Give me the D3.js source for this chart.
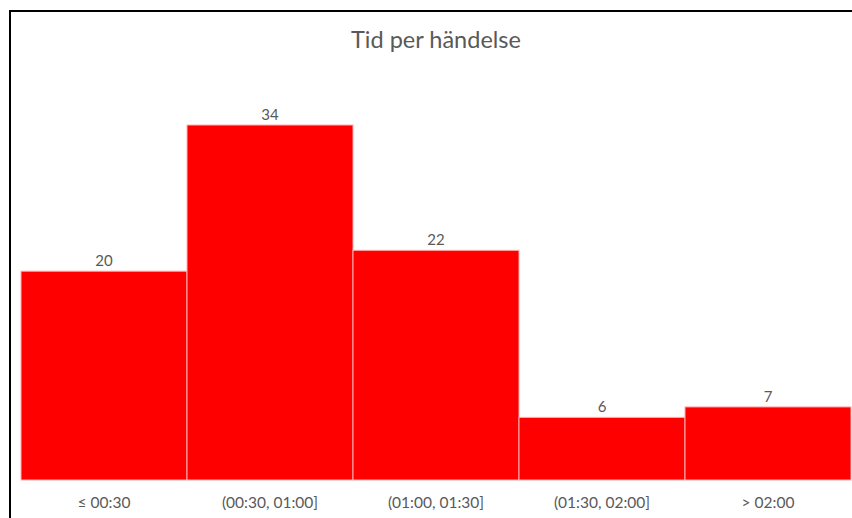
<!DOCTYPE html>
<html><head><meta charset="utf-8">
<script src="https://cdn.jsdelivr.net/npm/d3@7"></script>
<style>body{margin:0;background:#fff;} svg{display:block;}</style>
</head><body>
<script>
const title = "Tid per händelse";
const categories = ["≤ 00:30", "(00:30, 01:00]", "(01:00, 01:30]", "(01:30, 02:00]", "> 02:00"];
const values = [20, 34, 22, 6, 7];

const W = 852, H = 518;
const svg = d3.select("body").append("svg").attr("width", W).attr("height", H);
const font = "Lato, 'Open Sans', sans-serif";

// chart border (frame partly cut off at right/bottom)
svg.append("path")
  .attr("d", `M10,${H+5} L10,11 L${W+5},11`)
  .attr("fill", "none").attr("stroke", "#000").attr("stroke-width", 2);

svg.append("text").attr("x", 436).attr("y", 48)
  .attr("text-anchor", "middle").attr("font-family", font)
  .attr("font-size", 23.5).attr("fill", "#595959").text(title);

const x = d3.scaleBand().domain(categories).range([21, 851]).padding(0);
const y = d3.scaleLinear().domain([0, 34]).range([480, 125]);

svg.selectAll("rect.bar").data(values).join("rect")
  .attr("class", "bar")
  .attr("x", (d, i) => x(categories[i]))
  .attr("y", d => y(d))
  .attr("width", x.bandwidth())
  .attr("height", d => y(0) - y(d))
  .attr("fill", "#ff0000")
  .attr("stroke", "#ffb0b0").attr("stroke-width", 1);

svg.selectAll("text.val").data(values).join("text")
  .attr("class", "val")
  .attr("x", (d, i) => x(categories[i]) + x.bandwidth() / 2)
  .attr("y", d => y(d) - 5)
  .attr("text-anchor", "middle").attr("font-family", font)
  .attr("font-size", 15).attr("fill", "#595959").text(d => d);

const xAxis = d3.axisBottom(x).tickSize(0).tickPadding(0);
const gx = svg.append("g").attr("transform", "translate(0,480)").call(xAxis);
gx.select(".domain").remove();
gx.selectAll("text").attr("font-family", font).attr("font-size", 15.5)
  .attr("fill", "#595959").attr("dy", 0).attr("y", 28);
</script>
</body></html>
